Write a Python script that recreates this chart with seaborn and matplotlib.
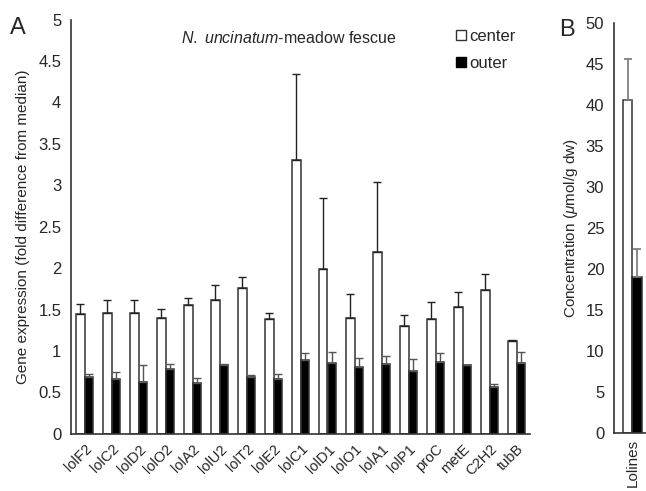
import numpy as np
import pandas as pd
import matplotlib
matplotlib.use("Agg")
import matplotlib.pyplot as plt
import seaborn as sns
from matplotlib.lines import Line2D

genes = ["lolF2", "lolC2", "lolD2", "lolO2", "lolA2", "lolU2", "lolT2", "lolE2",
         "lolC1", "lolD1", "lolO1", "lolA1", "lolP1", "proC", "metE", "C2H2", "tubB"]
center = [1.45, 1.46, 1.46, 1.40, 1.55, 1.61, 1.76, 1.38, 3.30, 1.99, 1.40, 2.19,
          1.30, 1.385, 1.53, 1.73, 1.12]
center_err = [0.12, 0.15, 0.15, 0.11, 0.085, 0.18, 0.135, 0.08, 1.045, 0.86, 0.29,
              0.855, 0.13, 0.20, 0.18, 0.20, 0.01]
outer = [0.685, 0.665, 0.63, 0.78, 0.615, 0.825, 0.68, 0.665, 0.89, 0.85, 0.81,
         0.84, 0.76, 0.86, 0.83, 0.565, 0.85]
outer_err = [0.04, 0.08, 0.20, 0.065, 0.055, 0.02, 0.03, 0.06, 0.09, 0.135, 0.11,
             0.10, 0.14, 0.115, 0.0, 0.04, 0.135]

lolines_cat = ["Lolines"]
lolines_center = [40.6]
lolines_center_err = [5.1]
lolines_outer = [19.1]
lolines_outer_err = [3.4]

groups = ["center", "outer"]

sns.set_style("white")
plt.rcParams["font.family"] = ["Liberation Sans", "DejaVu Sans"]
plt.rcParams["mathtext.fontset"] = "custom"
plt.rcParams["mathtext.it"] = "Liberation Sans:italic"
plt.rcParams["mathtext.rm"] = "Liberation Sans"

W, H = 646, 491
fig = plt.figure(figsize=(W / 100, H / 100), dpi=100)

axA = fig.add_axes([71 / W, 1 - 433.7 / H, (530 - 71) / W, 414 / H])
axB = fig.add_axes([614 / W, 1 - 433.3 / H, (646 - 614) / W, 410 / H])

edge = "#333333"

dfA = pd.DataFrame({
    "gene": genes * 2,
    "group": ["center"] * len(genes) + ["outer"] * len(genes),
    "value": center + outer,
})
sns.barplot(data=dfA, x="gene", y="value", hue="group", order=genes, hue_order=groups,
            palette={"center": "white", "outer": "black"}, width=0.62, errorbar=None,
            edgecolor=edge, linewidth=1.1, ax=axA, legend=False)

n = len(genes)
patchesA = [p for p in axA.patches if p.get_height() > 0][: 2 * n]
xs_c = [p.get_x() + p.get_width() / 2 for p in patchesA[:n]]
xs_o = [p.get_x() + p.get_width() / 2 for p in patchesA[n:2 * n]]
axA.errorbar(xs_c, center, yerr=[np.zeros(n), center_err], fmt="none",
             ecolor="#222222", elinewidth=1.0, capsize=3, capthick=1.0, zorder=1)
axA.errorbar(xs_o, outer, yerr=[np.zeros(n), outer_err], fmt="none",
             ecolor="#555555", elinewidth=1.0, capsize=3, capthick=1.0, zorder=1)

axA.set_ylim(0, 5)
axA.set_xlim(-0.5, n - 0.5)
axA.set_yticks(np.arange(0, 5.01, 0.5))
axA.set_yticklabels(["0", "0.5", "1", "1.5", "2", "2.5", "3", "3.5", "4", "4.5", "5"])
axA.set_xlabel("")
axA.set_ylabel("Gene expression (fold difference from median)", fontsize=11, labelpad=6)
axA.set_xticks(range(n))
axA.set_xticklabels(genes, rotation=45, ha="right", rotation_mode="anchor", fontsize=10.5)
axA.set_xticks(np.arange(-0.5, n, 1.0), minor=True)
axA.tick_params(axis="x", which="major", length=0, pad=6)
axA.tick_params(axis="x", which="minor", length=3, width=1, color=edge, direction="out")
axA.tick_params(axis="y", which="major", length=4, width=1, color=edge, direction="out",
                labelsize=12, pad=3)
for s in ["top", "right"]:
    axA.spines[s].set_visible(False)
for s in ["left", "bottom"]:
    axA.spines[s].set_color(edge)
    axA.spines[s].set_linewidth(1.2)

axA.text(0.475, 0.955, r"$\it{N.\ uncinatum}$-meadow fescue", transform=axA.transAxes,
         ha="center", va="center", fontsize=11.5)

handles = [Line2D([], [], marker="s", linestyle="none", markersize=7,
                  markerfacecolor="white", markeredgecolor=edge, markeredgewidth=1),
           Line2D([], [], marker="s", linestyle="none", markersize=7,
                  markerfacecolor="black", markeredgecolor="black")]
fig.legend(handles, groups, loc="upper left", bbox_to_anchor=(446 / W, 1 - 22 / H),
           frameon=False, fontsize=12, handletextpad=0.0, labelspacing=0.75,
           handlelength=1.0, borderaxespad=0)

fig.text(18 / W, 1 - 28 / H, "A", fontsize=17, ha="center", va="center")
fig.text(567 / W, 1 - 30 / H, "B", fontsize=17, ha="center", va="center")

dfB = pd.DataFrame({
    "cat": lolines_cat * 2,
    "group": ["center", "outer"],
    "value": lolines_center + lolines_outer,
})
sns.barplot(data=dfB, x="cat", y="value", hue="group", hue_order=groups,
            palette={"center": "white", "outer": "black"}, width=0.52, errorbar=None,
            edgecolor=edge, linewidth=1.1, ax=axB, legend=False)
patchesB = [p for p in axB.patches if p.get_height() > 0][:2]
xb = [p.get_x() + p.get_width() / 2 for p in patchesB]
axB.errorbar([xb[0]], lolines_center, yerr=[[0], lolines_center_err], fmt="none",
             ecolor="#777777", elinewidth=1.2, capsize=3, capthick=1.2, zorder=1)
axB.errorbar([xb[1]], lolines_outer, yerr=[[0], lolines_outer_err], fmt="none",
             ecolor="#777777", elinewidth=1.2, capsize=3, capthick=1.2, zorder=1)
axB.set_ylim(0, 50)
axB.set_xlim(-0.5, 0.37)
axB.set_yticks(np.arange(0, 51, 5))
axB.set_xlabel("")
axB.set_ylabel(r"Concentration ($\it{\mu}$mol/g dw)", fontsize=11, labelpad=4)
axB.set_xticks([0])
axB.set_xticklabels(lolines_cat, rotation=90, fontsize=11)
axB.tick_params(axis="x", length=0, pad=4)
axB.tick_params(axis="y", length=4, width=1, color=edge, direction="out", labelsize=12, pad=3)
for s in ["top", "right"]:
    axB.spines[s].set_visible(False)
for s in ["left", "bottom"]:
    axB.spines[s].set_color(edge)
    axB.spines[s].set_linewidth(1.2)

fig.savefig("out.png", dpi=100)
